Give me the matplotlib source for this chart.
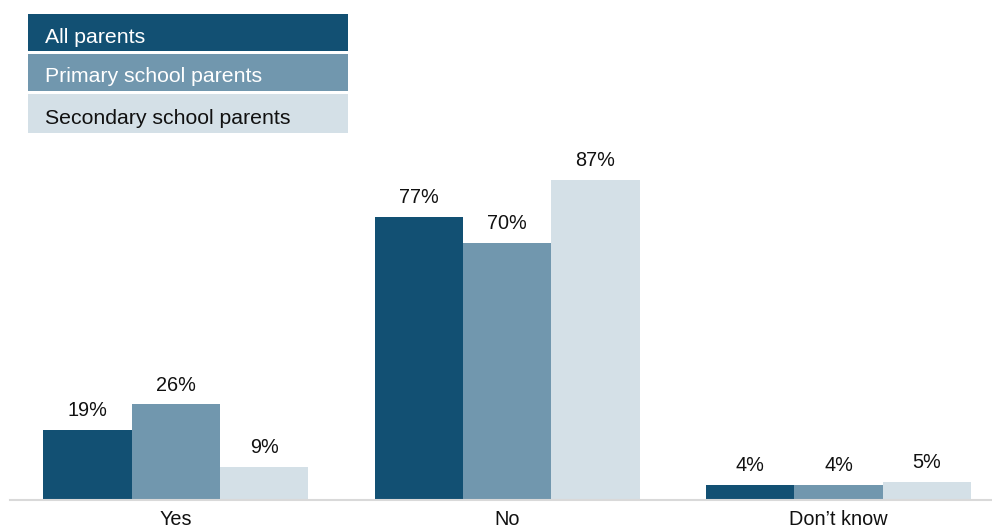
import matplotlib
matplotlib.use("Agg")
import matplotlib.pyplot as plt
import numpy as np
from matplotlib.patches import Rectangle

categories = ["Yes", "No", "Don\u2019t know"]
series = ["All parents", "Primary school parents", "Secondary school parents"]
all_parents = [19, 77, 4]
primary = [26, 70, 4]
secondary = [9, 87, 5]

COLORS = ["#125073", "#7197ae", "#d4e0e7"]
TEXT_COLORS = ["white", "white", "#111111"]

plt.rcParams.update({
    "font.family": ["Liberation Sans", "DejaVu Sans"],
    "figure.facecolor": "white",
})

W, H = 992, 531
fig = plt.figure(figsize=(W / 100, H / 100), dpi=100)

# axes placed in pixel units: baseline at y=500, left edge at x=10
ax = fig.add_axes([10 / W, 31 / H, 982 / W, 360 / H])
ax.set_xlim(-0.5, 2.463)
ax.set_ylim(0, 360 / 3.675)

x = np.arange(len(categories))
width = 0.2665
for i, (vals, col) in enumerate(zip([all_parents, primary, secondary], COLORS)):
    bars = ax.bar(x + (i - 1) * width, vals, width, color=col, edgecolor="none")
    for b, v in zip(bars, vals):
        ax.annotate(f"{v}%", (b.get_x() + b.get_width() / 2, v),
                    xytext=(0, 10), textcoords="offset points",
                    ha="center", va="baseline", fontsize=14.3, color="#111111")

for s in ["top", "right", "left"]:
    ax.spines[s].set_visible(False)
ax.spines["bottom"].set_color("#d9d9d9")
ax.spines["bottom"].set_linewidth(1.5)
ax.set_yticks([])
ax.set_xticks(x)
ax.set_xticklabels(categories, fontsize=14.3, color="#111111")
ax.tick_params(axis="x", length=0, pad=7.5)

# legend drawn as stacked coloured boxes
boxes = [(14, 51), (54, 91), (94, 133)]
for (top, bot), name, col, tcol in zip(boxes, series, COLORS, TEXT_COLORS):
    fig.patches.append(Rectangle((28 / W, 1 - bot / H), 320 / W, (bot - top) / H,
                                 transform=fig.transFigure, facecolor=col,
                                 edgecolor="none"))
    fig.text(45 / W, 1 - ((top + bot) / 2 + 10) / H, name, ha="left",
             va="baseline", fontsize=15.3, color=tcol)

fig.savefig("out.png", dpi=100)
